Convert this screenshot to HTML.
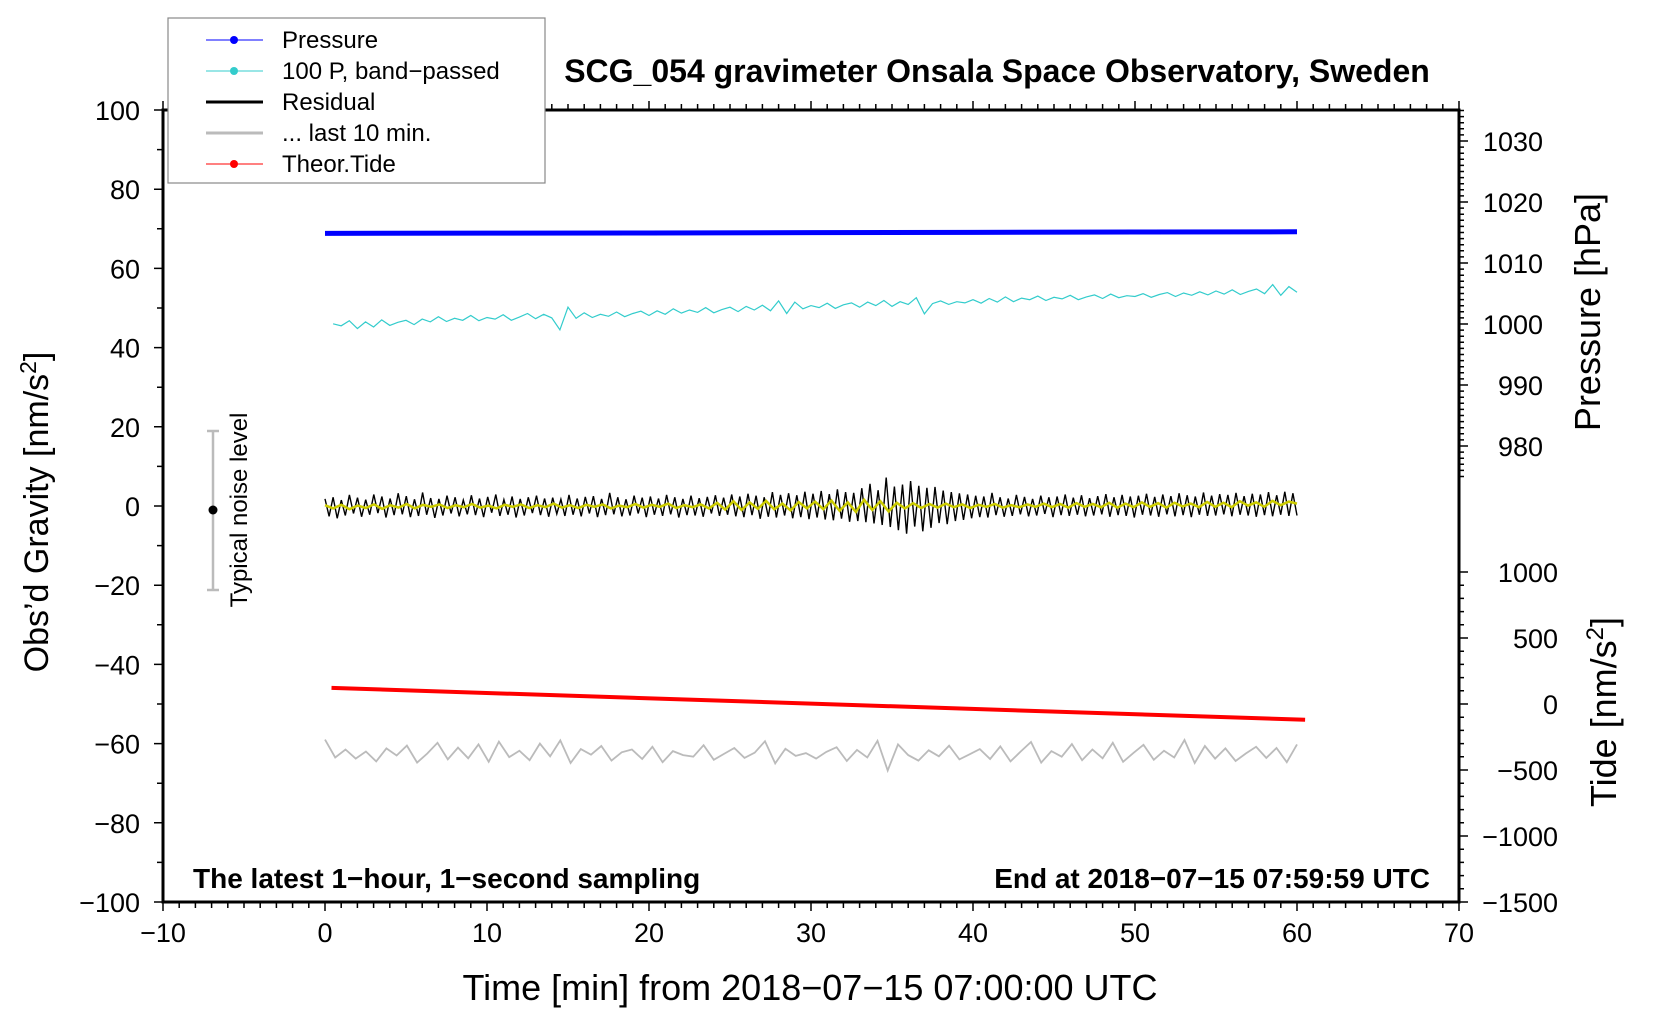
<!DOCTYPE html>
<html><head><meta charset="utf-8">
<style>
html,body{margin:0;padding:0;background:#fff;}
svg{display:block;font-family:"Liberation Sans",Arial,sans-serif;}
</style></head>
<body>
<svg id="chart" width="1660" height="1020" viewBox="0 0 1660 1020" xmlns="http://www.w3.org/2000/svg">
<rect x="0" y="0" width="1660" height="1020" fill="#fff"/>
<g id="marks"></g>
<g id="axes"></g>
<text x="997" y="82" text-anchor="middle" font-size="32" font-weight="bold">SCG_054 gravimeter Onsala Space Observatory, Sweden</text>
<text x="193" y="888" font-size="28" font-weight="bold">The latest 1−hour, 1−second sampling</text>
<text x="1430" y="888" text-anchor="end" font-size="28" font-weight="bold">End at 2018−07−15 07:59:59 UTC</text>
<text x="810" y="1000" text-anchor="middle" font-size="36">Time [min] from 2018−07−15 07:00:00 UTC</text>
<text transform="translate(48,512) rotate(-90)" text-anchor="middle" font-size="34">Obs’d Gravity [nm/s<tspan font-size="23" dy="-12">2</tspan><tspan dy="12">]</tspan></text>
<text transform="translate(1600,312) rotate(-90)" text-anchor="middle" font-size="36">Pressure [hPa]</text>
<text transform="translate(1616,712) rotate(-90)" text-anchor="middle" font-size="36">Tide [nm/s<tspan font-size="24" dy="-13">2</tspan><tspan dy="13">]</tspan></text>
<g>
<line x1="213" y1="431" x2="213" y2="590" stroke="#bbb" stroke-width="2.5"/>
<line x1="207" y1="431" x2="219" y2="431" stroke="#bbb" stroke-width="2.5"/>
<line x1="207" y1="590" x2="219" y2="590" stroke="#bbb" stroke-width="2.5"/>
<circle cx="213" cy="510" r="4.5" fill="#000"/>
<text transform="translate(247,510) rotate(-90)" text-anchor="middle" font-size="24">Typical noise level</text>
</g>
<g>
<rect x="168" y="18" width="377" height="165" fill="#fff" stroke="#888" stroke-width="1.2"/>
<g><line x1="206" y1="40" x2="263" y2="40" stroke="#00f" stroke-width="1"/><circle cx="234" cy="40" r="4" fill="#00f"/><text x="282" y="48" font-size="24">Pressure</text></g>
<g><line x1="206" y1="71" x2="263" y2="71" stroke="#3cc" stroke-width="1"/><circle cx="234" cy="71" r="4" fill="#3cc"/><text x="282" y="79" font-size="24">100 P, band−passed</text></g>
<g><line x1="206" y1="102" x2="263" y2="102" stroke="#000" stroke-width="3"/><text x="282" y="110" font-size="24">Residual</text></g>
<g><line x1="206" y1="133" x2="263" y2="133" stroke="#bbb" stroke-width="3"/><text x="282" y="141" font-size="24">... last 10 min.</text></g>
<g><line x1="206" y1="164" x2="263" y2="164" stroke="#f00" stroke-width="1"/><circle cx="234" cy="164" r="4" fill="#f00"/><text x="282" y="172" font-size="24">Theor.Tide</text></g>
</g>
</svg>
<script>
// ---- data ----
const xTicks = [-10,0,10,20,30,40,50,60,70];
const gravTicks = [100,80,60,40,20,0,-20,-40,-60,-80,-100];
const pressTicks = [1030,1020,1010,1000,990,980];
const tideTicks = [1000,500,0,-500,-1000,-1500];
const pressureTimes = [0,10,20,30,40,50,60];
const pressureValues = [1014.85,1014.9,1014.92,1014.98,1015.02,1015.08,1015.12];
const tideTimes = [0.4,60.5];
const tideValues = [122,-120];
const bandPassed = [46,45.5,46.8,44.8,46.5,45.2,47,45.6,46.4,46.9,45.8,47.2,46.5,47.8,46.6,47.4,46.9,48.1,46.8,47.6,
 47.2,48.3,46.9,47.7,48.6,47.3,48.4,47.5,44.5,50.2,47.4,48.8,47.6,48.4,47.9,49,47.8,48.6,49.2,48.1,
 49.3,48.4,49.8,48.7,49.5,48.9,50.1,48.8,49.6,50.2,49.1,50.4,49.5,50.7,49.3,51.8,48.6,51.5,49.8,50.6,
 50.1,51.2,49.9,50.8,51.3,50.2,51.5,50.6,51.9,50.4,51.6,50.9,52.6,48.5,51.1,51.8,50.9,51.6,51.3,52.1,
 51.2,52.4,51.5,52.8,51.6,52.5,52.1,53,51.9,52.7,52.3,53.2,52.1,52.8,53.3,52.4,53.5,52.6,53.1,52.9,
 53.6,52.7,53.4,53.9,52.9,53.8,53.2,54.1,53.3,54.3,53.5,54.6,53.4,54.2,54.8,53.6,55.9,53.2,55.4,54];
const residual = [1.8,-2.6,2.2,-3.1,1.5,-2.4,2.8,-1.9,2.1,-2.7,1.6,-2.2,2.9,-1.8,2.4,-2.9,1.9,-2.3,3.2,-2.1,
 2.5,-2.8,1.7,-2.5,3.4,-2.2,2,-3,1.8,-2.4,2.6,-1.9,2.2,-2.6,1.5,-2.1,2.7,-2.3,1.9,-2.8,
 2.3,-1.7,2.9,-2.5,1.6,-2.2,2.4,-2.9,1.8,-2.4,2.2,-1.8,2.6,-2.3,1.9,-2.7,2.1,-2,1.7,-2.5,
 2.8,-2.2,1.9,-2.6,2.3,-1.9,2.5,-2.8,1.8,-2.3,3.3,-2.1,2.2,-2.6,1.7,-2.4,2.6,-1.9,2.1,-2.8,
 2.4,-2.2,1.9,-2.5,2.8,-2.1,2.2,-2.9,1.8,-2.3,2.6,-2.4,2,-2.7,2.3,-1.9,2.7,-2.5,2.1,-2.2,
 2.9,-2.6,2.4,-2.8,3.1,-2.3,2.6,-3.2,2.2,-2.7,3.5,-2.9,2.8,-2.4,3.2,-3.1,2.7,-2.8,3.6,-3.3,
 3.1,-2.9,3.8,-3.4,3,-3.6,4.2,-3.2,3.5,-4,3.3,-3.8,4.5,-4.1,5.6,-4.4,4,-4.8,7.2,-5.3,
 4.9,-6.1,5.4,-7,6.3,-5.2,5.1,-6.4,4.6,-5.5,4.8,-4.3,3.9,-4.6,3.5,-3.8,3.2,-3.5,2.9,-3.1,
 2.6,-2.8,2.4,-2.9,3.3,-2.3,2.2,-2.7,1.9,-2.5,2.8,-2.1,2.3,-2.6,1.8,-2.4,2.6,-2,2.2,-2.8,
 2.4,-2.3,2.9,-2.5,2.1,-2.2,2.7,-2.6,2,-2.4,2.5,-2.1,3,-2.7,2.2,-2.3,2.8,-2.5,2.4,-2.9,
 2.6,-2.2,3.1,-2.4,2.3,-2.7,2.9,-2.1,2.5,-2.6,3.2,-2.3,2.7,-2.8,2.4,-2.2,3.4,-2.5,2.6,-2.4,
 3,-2.1,2.8,-2.6,3.3,-2.2,2.5,-2.4,3.1,-2.7,2.9,-2.3,3.5,-2.6,2.7,-2.2,3.6,-2.5,3.2,-2.4];
const smoothed = [0.2,-0.6,0.3,-0.8,0.1,-0.5,0.4,-0.7,0.2,-0.4,0.5,-0.6,0.3,-0.2,0.4,-0.5,0.2,-0.3,0.5,-0.4,
 0.1,-0.6,0.3,-0.2,0.4,-0.5,0.2,-0.3,0.6,-0.4,0.2,-0.5,0.3,-0.2,0.4,-0.6,0.1,-0.3,0.5,-0.4,
 0.3,-0.2,0.6,-0.5,0.2,-0.3,0.4,-0.6,0.8,-0.9,1.2,-1,0.9,-0.7,1.3,-0.8,0.6,-1.1,1,-0.6,
 1.1,-0.8,1.4,-1.2,0.9,-1.5,1.6,-1,1.2,-1.4,0.8,-0.6,0.7,-0.5,0.5,-0.4,0.6,-0.3,0.4,-0.5,
 0.3,-0.2,0.5,-0.4,0.2,-0.3,0.4,-0.2,0.6,-0.3,0.5,-0.4,0.7,-0.2,0.5,-0.3,0.8,-0.4,0.6,-0.3,
 0.9,-0.2,0.7,-0.4,0.8,-0.1,0.6,-0.3,1,-0.2,0.8,-0.3,1.2,0.1,0.9,-0.2,1.3,0.2,1.1,0.6];
const lastTen = [-59,-63.5,-61.5,-63.8,-62,-64.5,-61.2,-63,-60.5,-64.8,-62.5,-59.8,-64,-61,-63.7,-60.2,-64.6,-59.5,-63.4,-61.8,
 -64.2,-60,-63.2,-59.2,-64.9,-61.4,-62.8,-60.6,-64.3,-62.2,-61.5,-63.9,-60.8,-64.7,-61.9,-62.9,-63.3,-60.4,-64.1,-62.6,
 -61.1,-63.6,-62.3,-59.4,-65,-61.3,-63.1,-62.4,-63.8,-62.1,-60.9,-64.4,-61.6,-63.5,-59.3,-66.8,-60.2,-62.9,-64.3,-61.7,
 -63.2,-60.5,-64,-62.7,-61.4,-63.9,-60.7,-64.5,-62,-59.6,-64.8,-61.9,-63.3,-60.1,-64.2,-61.5,-63.7,-59.8,-64.6,-62.4,
 -60.3,-64.1,-61.8,-63.5,-59.1,-64.9,-60.6,-63.8,-61.2,-64.4,-62.5,-60.8,-63.6,-61.1,-64.7,-60.2];

// ---- scales ----
const X = t => 163 + (t + 10) * 16.2;
const YG = v => 110 + (100 - v) * 3.96;
const YP = p => 141 + (1030 - p) * 6.1;
const YT = v => 704 - v * 0.132;
const NS = 'http://www.w3.org/2000/svg';
const marks = document.getElementById('marks');
const axes = document.getElementById('axes');
function mk(tag, attrs, parent){const e=document.createElementNS(NS,tag);for(const k in attrs)e.setAttribute(k,attrs[k]);parent.appendChild(e);return e;}
function series(vals, t0, t1){const n=vals.length;return vals.map((v,i)=>[t0+(t1-t0)*i/(n-1),v]);}
function pathFrom(pts, yf){return pts.map((p,i)=>(i?'L':'M')+X(p[0]).toFixed(1)+','+yf(p[1]).toFixed(1)).join('');}

let p = mk('path',{d:pathFrom(series(bandPassed,0.5,60),YG),fill:'none',stroke:'#3cc','stroke-width':1.2},marks);


p = mk('path',{d:pathFrom(pressureTimes.map((t,i)=>[t,pressureValues[i]]),YP),fill:'none',stroke:'#00f','stroke-width':5},marks);


p = mk('path',{d:pathFrom(series(residual,0,60),YG),fill:'none',stroke:'#000','stroke-width':1.4},marks);


p = mk('path',{d:pathFrom(series(smoothed,0,60),YG),fill:'none',stroke:'#cc0','stroke-width':2.5},marks);


p = mk('path',{d:pathFrom(tideTimes.map((t,i)=>[t,tideValues[i]]),YT),fill:'none',stroke:'#f00','stroke-width':4},marks);


p = mk('path',{d:pathFrom(series(lastTen,0,60),YG),fill:'none',stroke:'#bbb','stroke-width':1.8},marks);



const L=163,R=1459,T=110,B=902;
let f = mk('rect',{x:L,y:T,width:R-L,height:B-T,fill:'none',stroke:'#000','stroke-width':3},axes);


let d='';
for(let t=-10;t<=70;t++){const x=X(t);const big=t%10===0;d+=`M${x},${B}v${big?9:6}M${x},${T}v${big?-9:-6}`;}
for(let g=-100;g<=100;g+=10){const y=YG(g);d+=`M${L},${y}h${g%20===0?-9:-6}`;}
for(let pp=974;pp<=1035;pp++){const y=YP(pp);if(y<T||y>480)continue;d+=`M${R},${y}h${pp%10===0?9:5}`;}
for(let tv=-1500;tv<=1000;tv+=100){const y=YT(tv);d+=`M${R},${y}h${tv%500===0?9:5}`;}
f = mk('path',{d:d,stroke:'#000','stroke-width':1.5,fill:'none'},axes);


xTicks.forEach(t=>{const e=mk('text',{x:X(t),y:B+40,'text-anchor':'middle','font-size':27},axes);e.textContent=String(t).replace('-','−');

});
gravTicks.forEach(g=>{const e=mk('text',{x:140,y:YG(g)+10,'text-anchor':'end','font-size':27},axes);e.textContent=String(g).replace('-','−');

});
pressTicks.forEach(v=>{const e=mk('text',{x:1543,y:YP(v)+10,'text-anchor':'end','font-size':27},axes);e.textContent=String(v);

});
tideTicks.forEach(v=>{const e=mk('text',{x:1558,y:YT(v)+10,'text-anchor':'end','font-size':27},axes);e.textContent=String(v).replace('-','−');

});
</script>
</body></html>
